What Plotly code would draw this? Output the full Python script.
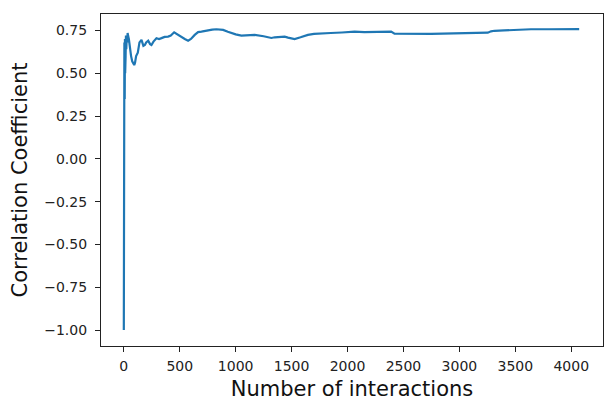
import plotly.graph_objects as go

# running correlation
interactions = [
    0, 2, 3, 4, 5, 6, 7, 8, 10, 12, 14, 16, 19, 22, 26, 30, 34, 38, 45, 55,
    65, 75, 85, 93, 100, 110, 125, 140, 158, 175, 188, 200, 218, 235, 247, 265,
    292, 315, 337, 365, 396, 420, 450, 470, 486, 515, 545, 575, 600, 634, 664,
    694, 740, 790, 828, 860, 888, 930, 962, 1000, 1051, 1100, 1170, 1250, 1319,
    1349, 1408, 1438, 1468, 1527, 1580, 1646, 1700, 1765, 1850, 1950, 2063,
    2150, 2230, 2301, 2361, 2390, 2420, 2500, 2600, 2745, 2850, 2950, 3050,
    3150, 3254, 3283, 3313, 3400, 3500, 3640, 3800, 3950, 4071,
]
corr = [
    -1.0, 0.20, 0.55, 0.30, 0.68, 0.42, 0.66, 0.35, 0.70, 0.50, 0.68, 0.60,
    0.72, 0.64, 0.71, 0.68, 0.735, 0.72, 0.70, 0.64, 0.60, 0.57, 0.55, 0.548,
    0.56, 0.60, 0.62, 0.68, 0.695, 0.66, 0.665, 0.68, 0.69, 0.67, 0.665, 0.685,
    0.704, 0.70, 0.705, 0.712, 0.714, 0.72, 0.739, 0.73, 0.724, 0.714, 0.70,
    0.69, 0.70, 0.724, 0.74, 0.743, 0.75, 0.755, 0.757, 0.756, 0.753, 0.742,
    0.734, 0.727, 0.72, 0.722, 0.724, 0.716, 0.706, 0.71, 0.71, 0.714, 0.708,
    0.70, 0.71, 0.724, 0.73, 0.734, 0.735, 0.738, 0.743, 0.740, 0.742, 0.740,
    0.742, 0.743, 0.731, 0.730, 0.729, 0.730, 0.731, 0.732, 0.731, 0.733,
    0.737, 0.745, 0.748, 0.750, 0.753, 0.757, 0.757, 0.758, 0.758,
]

x_ticks = [0, 500, 1000, 1500, 2000, 2500, 3000, 3500, 4000]
y_ticks = [-1.0, -0.75, -0.5, -0.25, 0.0, 0.25, 0.5, 0.75]

fig = go.Figure(go.Scatter(
    x=interactions,
    y=corr,
    mode="lines",
    line=dict(color="#1f77b4", width=2.2),
))

axis_style = dict(
    showline=True, linecolor="#222", linewidth=1.2, mirror=True,
    ticks="outside", ticklen=5, tickcolor="#222", showgrid=False,
    zeroline=False, automargin=False, tickfont=dict(size=14, color="#222"),
)

# page body has an 8px margin, so the figure is sized to fit the window
fig.update_layout(
    width=605,
    height=393,
    margin=dict(l=93, r=10, t=6, b=55),
    paper_bgcolor="white",
    plot_bgcolor="white",
    showlegend=False,
    font=dict(family="DejaVu Sans", color="#111"),
)
fig.update_xaxes(
    range=[-204, 4284], tickvals=x_ticks, ticklabelstandoff=2,
    title=dict(text="Number of interactions", font=dict(size=21), standoff=8),
    **axis_style,
)
fig.update_yaxes(
    range=[-1.093, 0.846], tickvals=y_ticks, tickformat=".2f",
    ticklabelstandoff=5,
    title=dict(text="Correlation Coefficient", font=dict(size=21), standoff=14),
    **axis_style,
)

fig.write_html("out.html")
